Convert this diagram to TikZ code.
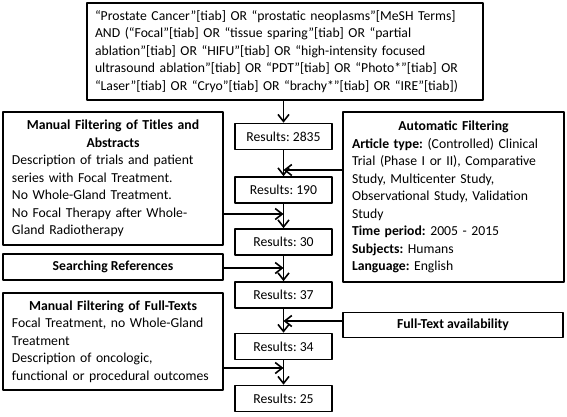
\documentclass[tikz,border=0pt]{standalone}
\usepackage{fontspec}
\setmainfont{Carlito}
\usetikzlibrary{arrows.meta}
\setlength{\parindent}{0pt}
\frenchspacing
\begin{document}
\begin{tikzpicture}[x=1pt, y=-1pt, >={Straight Barb[length=7pt,width=11pt]},
	font=\fontsize{13.7}{17.5}\selectfont, line join=round,
	box/.style={draw, line width=1.6pt, inner xsep=8pt, inner ysep=2pt},
	resbox/.style={box, minimum width=97pt, minimum height=26pt, inner xsep=2pt},
	link/.style={->, line width=1.6pt}]
	\useasboundingbox (0,0) rectangle (567,416);
	% Suchanfrage
	\node[box, text width=380pt, minimum height=97pt] (query) at (285,51.5)
		{\raggedright “Prostate Cancer”[tiab] OR “prostatic neoplasms”[MeSH Terms]\par
		AND (“Focal”[tiab] OR “tissue sparing”[tiab] OR “partial\par
		ablation”[tiab] OR “HIFU”[tiab] OR “high-intensity focused\par
		ultrasound ablation”[tiab] OR “PDT”[tiab] OR “Photo*”[tiab] OR\par
		“Laser”[tiab] OR “Cryo”[tiab] OR “brachy*”[tiab] OR “IRE”[tiab])};
	% Ergebnisse
	\node[resbox] (r1) at (283.5,136.5) {Results: 2835};
	\node[resbox] (r2) at (283.5,190) {Results: 190};
	\node[resbox] (r3) at (283.5,242) {Results: 30};
	\node[resbox] (r4) at (283.5,295) {Results: 37};
	\node[resbox] (r5) at (283.5,346.5) {Results: 34};
	\node[resbox] (r6) at (283.5,398.5) {Results: 25};
	% Filter links
	\node[box, inner xsep=9pt, text width=202pt, minimum height=133pt] (titles) at (113,178.5)
		{\centering\textbf{Manual Filtering of Titles and}\par
		\textbf{Abstracts}\par
		\raggedright Description of trials and patient\par
		series with Focal Treatment.\par
		No Whole-Gland Treatment.\par
		No Focal Therapy after Whole-\par
		Gland Radiotherapy};
	\node[box, minimum width=220pt, minimum height=26pt] (refs) at (113,267)
		{\textbf{Searching References}};
	\node[box, inner xsep=9pt, text width=202pt, minimum height=97pt] (fulltexts) at (113,341.5)
		{\centering\textbf{Manual Filtering of Full-Texts}\par
		\raggedright Focal Treatment, no Whole-Gland\par
		Treatment\par
		Description of oncologic,\par
		functional or procedural outcomes};
	% Filter rechts
	\node[box, inner xsep=9pt, text width=203pt, minimum height=170pt] (auto) at (453.5,197)
		{\centering\textbf{Automatic Filtering}\par
		\raggedright\textbf{Article type:} (Controlled) Clinical\par
		Trial (Phase I or II), Comparative\par
		Study, Multicenter Study,\par
		Observational Study, Validation\par
		Study\par
		\textbf{Time period:} 2005 - 2015\par
		\textbf{Subjects:} Humans\par
		\textbf{Language:} English};
	\node[box, minimum width=220pt, minimum height=25pt] (avail) at (453,325)
		{\textbf{Full-Text availability}};
	% Einmuendungen
	\coordinate (j1) at (283.5,170);
	\coordinate (j2) at (283.5,214);
	\coordinate (j3) at (283.5,268);
	\coordinate (j4) at (283.5,321);
	\coordinate (j5) at (283.5,368);
	\draw[link] (r1 |- query.south) -- (r1);
	\draw[link] (r1) -- (r2);
	\draw[link] (r2) -- (r3);
	\draw[link] (r3) -- (r4);
	\draw[link] (r4) -- (r5);
	\draw[link] (r5) -- (r6);
	\draw[link] (auto.west |- j1) -- (j1);
	\draw[link] (titles.east |- j2) -- (j2);
	\draw[link] (refs.east |- j3) -- (j3);
	\draw[link] (avail.west |- j4) -- (j4);
	\draw[link] (fulltexts.east |- j5) -- (j5);
\end{tikzpicture}
\end{document}
